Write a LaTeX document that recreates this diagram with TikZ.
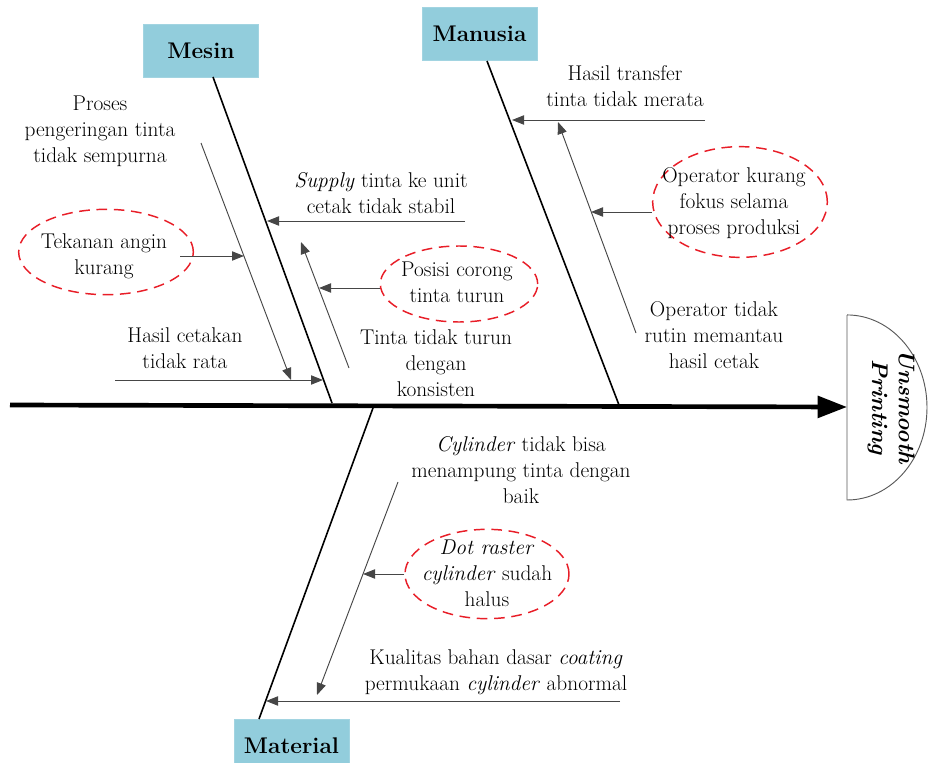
\documentclass[tikz,border=0pt]{standalone}
\usepackage{tikz}
\usetikzlibrary{arrows.meta,shapes.geometric}

\definecolor{boxblue}{RGB}{146,205,220}
\definecolor{dashred}{RGB}{232,30,40}
\definecolor{subgray}{RGB}{70,70,70}

\begin{document}
\begin{tikzpicture}[x=0.75pt,y=-0.75pt,
  every node/.style={font=\fontsize{16}{19.5}\selectfont,align=center},
  cat/.style={fill=boxblue,draw=boxblue!85!white,minimum width=86pt,minimum height=40pt,
    font=\fontsize{17}{20}\selectfont\bfseries},
  cause/.style={ellipse,draw=dashred,line width=1.1pt,dash pattern=on 8pt off 5pt,inner sep=0pt},
  sub/.style={draw=subgray,line width=0.7pt,-{Triangle[length=9pt,width=7pt]}},
  bone/.style={line width=1.2pt}]

\useasboundingbox (0,0) rectangle (928,763);

% categories
\node[cat] (mesin) at (201,50.5) {Mesin};
\node[cat] (manusia) at (479.5,33.5) {Manusia};
\node[cat] (material) at (291.5,745.5) {Material};

% effect
\draw[draw=gray!70!black,fill=white,line width=0.7pt] (847,315) -- (847,500)
  arc[start angle=-90,end angle=90,x radius=60pt,y radius=69.4pt];
\node[rotate=-90,font=\fontsize{17}{20}\selectfont\bfseries\itshape] (effect) at (891,407) {Unsmooth\\Printing};

% spine
\coordinate (tail) at (10,405);
\coordinate (head) at (847,407);
\draw[line width=3.5pt,-{Triangle[length=22pt,width=16pt]}] (tail) -- (head);

% main bones
\coordinate (mesinTop) at (213,77);
\coordinate (mesinEnd) at (332,403);
\coordinate (manusiaTop) at (487,61);
\coordinate (manusiaEnd) at (619,405);
\coordinate (materialTop) at (373,408);
\coordinate (materialEnd) at (259,719);

\draw[bone] (mesinTop) -- (mesinEnd);
\draw[bone] (manusiaTop) -- (manusiaEnd);
\draw[bone] (materialTop) -- (materialEnd);

% Mesin causes
\node (proses) at (100,131) {Proses\\pengeringan tinta\\tidak sempurna};
\node[cause,minimum width=131pt,minimum height=64pt] (tekananE) at (106,252) {};
\node (tekanan) at (104,256) {Tekanan angin\\kurang};
\node (hasilc) at (185,348) {Hasil cetakan\\tidak rata};
\node (supply) at (381,193) {\textit{Supply} tinta ke unit\\cetak tidak stabil};
\node[cause,minimum width=118pt,minimum height=57pt] (posisiE) at (459,284) {};
\node (posisi) at (457,282) {Posisi corong\\tinta turun};
\node (tinta) at (436,363) {Tinta tidak turun\\dengan\\konsisten};

\coordinate (s1a) at (201,143);
\coordinate (s1b) at (291,380);
\coordinate (s2a) at (180,256);
\coordinate (s2b) at (244,256);
\coordinate (s3a) at (115,380);
\coordinate (s3b) at (323,380);
\coordinate (s4a) at (465,221);
\coordinate (s4b) at (267,221);
\coordinate (s5a) at (349,368);
\coordinate (s5b) at (301,242);
\coordinate (s6b) at (319,288);

\draw[sub] (s1a) -- (s1b);
\draw[sub] (s2a) -- (s2b);
\draw[sub] (s3a) -- (s3b);
\draw[sub] (s4a) -- (s4b);
\draw[sub] (s5a) -- (s5b);
\draw[sub] (posisiE.west |- s6b) -- (s6b);

% Manusia causes
\node (hasilt) at (625,86) {Hasil transfer\\tinta tidak merata};
\node[cause,minimum width=131pt,minimum height=83pt] (fokusE) at (740,202) {};
\node (fokus) at (734,203) {Operator kurang\\fokus selama\\proses produksi};
\node (rutin) at (714,335) {Operator tidak\\rutin memantau\\hasil cetak};

\coordinate (s7a) at (705,120);
\coordinate (s7b) at (512,120);
\coordinate (s8a) at (636,333);
\coordinate (s8b) at (558,122);
\coordinate (s9b) at (591,212);

\draw[sub] (s7a) -- (s7b);
\draw[sub] (s8a) -- (s8b);
\draw[sub] (fokusE.west |- s9b) -- (s9b);

% Material causes
\node (cyl) at (521,470) {\textit{Cylinder} tidak bisa\\menampung tinta dengan\\baik};
\node[cause,minimum width=123pt,minimum height=67pt] (rasterE) at (487,574) {};
\node (raster) at (487,573) {\textit{Dot raster}\\\textit{cylinder} sudah\\halus};
\node (kualitas) at (496,672) {Kualitas bahan dasar \textit{coating}\\permukaan \textit{cylinder} abnormal};

\coordinate (s10a) at (398,482);
\coordinate (s10b) at (317,695);
\coordinate (s11b) at (363,574);
\coordinate (s12a) at (620,701);
\coordinate (s12b) at (266,701);

\draw[sub] (s10a) -- (s10b);
\draw[sub] (rasterE.west |- s11b) -- (s11b);
\draw[sub] (s12a) -- (s12b);

\end{tikzpicture}
\end{document}
